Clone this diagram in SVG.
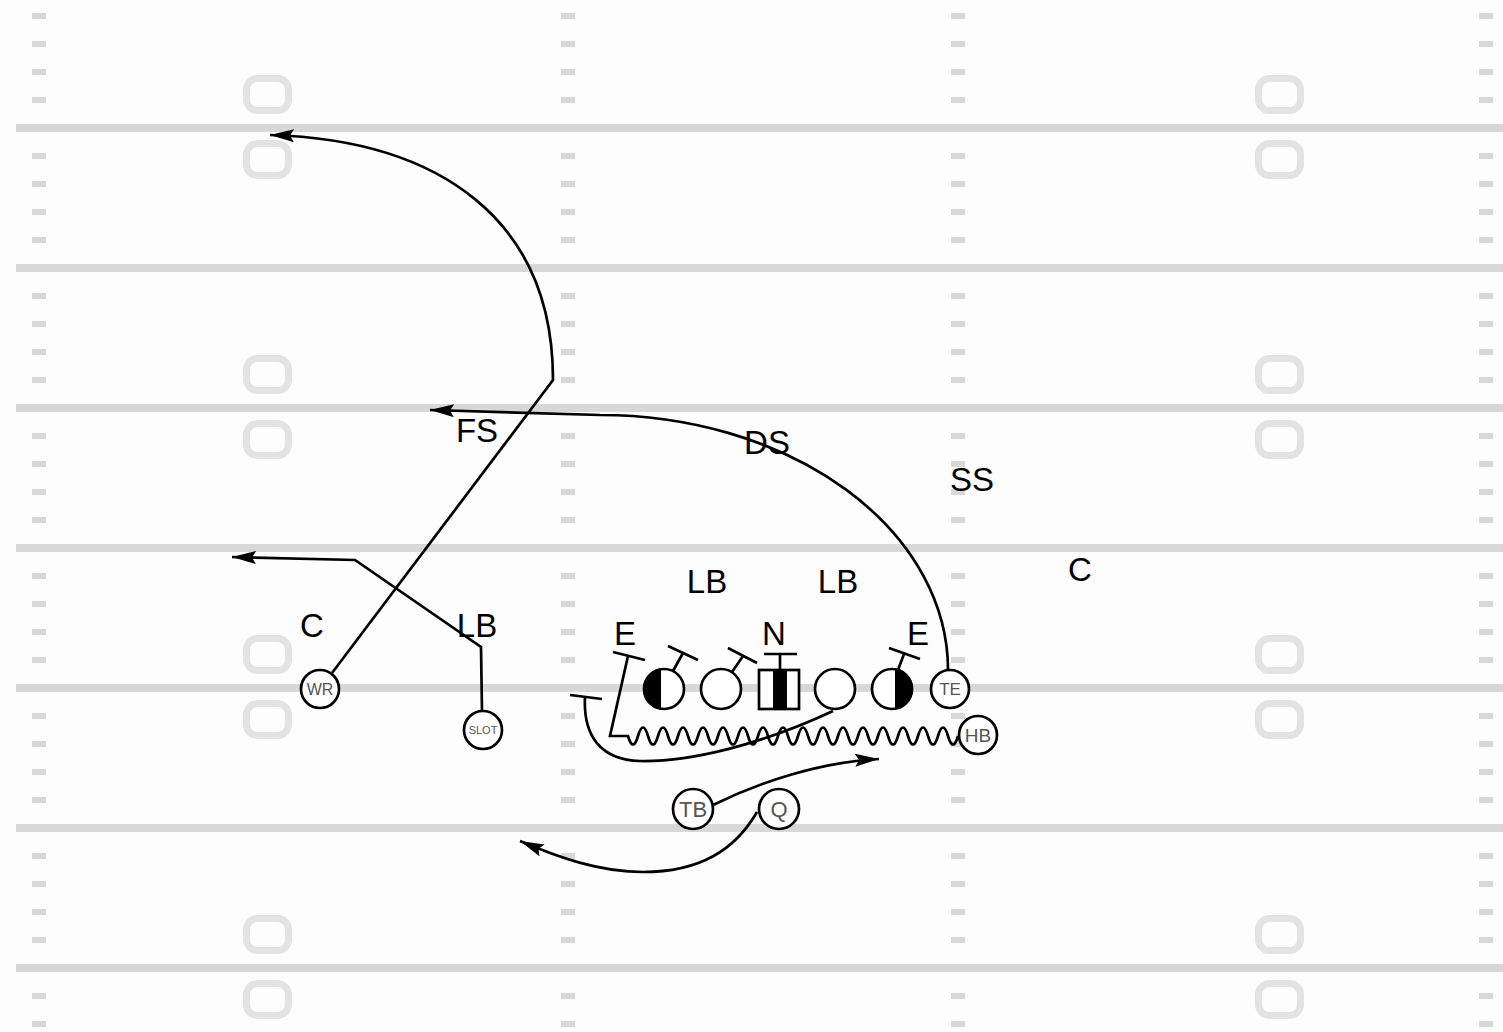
<svg xmlns="http://www.w3.org/2000/svg" xmlns:xlink="http://www.w3.org/1999/xlink" width="1503" height="1032" viewBox="0 0 1503 1032">
<style>
.yl{stroke:#d8d8d8;stroke-width:8}
.hash{fill:#d8d8d8}
.num{fill:none;stroke:#e3e3e3;stroke-width:7}
.p{fill:#fff;stroke:#000;stroke-width:2.7}
.route{fill:none;stroke:#000;stroke-width:2.7}
.blk{fill:none;stroke:#000;stroke-width:2.7}
.lbl{font-family:"Liberation Sans",Arial,sans-serif;font-size:33px;fill:#000;text-anchor:middle}
.pl{font-family:"Liberation Sans",Arial,sans-serif;fill:#555;text-anchor:middle}
</style>
<defs>
<marker id="arr" markerUnits="userSpaceOnUse" markerWidth="26" markerHeight="14" refX="24" refY="6.5" orient="auto">
<path d="M0,0 L24,6.5 L0,13 L4,6.5 Z" fill="#000"/>
</marker>
<g id="hcol">
<rect class="hash" x="0" y="13" width="14" height="6"/><rect class="hash" x="0" y="41" width="14" height="6"/><rect class="hash" x="0" y="69" width="14" height="6"/><rect class="hash" x="0" y="97" width="14" height="6"/>
<rect class="hash" x="0" y="153" width="14" height="6"/><rect class="hash" x="0" y="181" width="14" height="6"/><rect class="hash" x="0" y="209" width="14" height="6"/><rect class="hash" x="0" y="237" width="14" height="6"/>
<rect class="hash" x="0" y="293" width="14" height="6"/><rect class="hash" x="0" y="321" width="14" height="6"/><rect class="hash" x="0" y="349" width="14" height="6"/><rect class="hash" x="0" y="377" width="14" height="6"/>
<rect class="hash" x="0" y="433" width="14" height="6"/><rect class="hash" x="0" y="461" width="14" height="6"/><rect class="hash" x="0" y="489" width="14" height="6"/><rect class="hash" x="0" y="517" width="14" height="6"/>
<rect class="hash" x="0" y="573" width="14" height="6"/><rect class="hash" x="0" y="601" width="14" height="6"/><rect class="hash" x="0" y="629" width="14" height="6"/><rect class="hash" x="0" y="657" width="14" height="6"/>
<rect class="hash" x="0" y="713" width="14" height="6"/><rect class="hash" x="0" y="741" width="14" height="6"/><rect class="hash" x="0" y="769" width="14" height="6"/><rect class="hash" x="0" y="797" width="14" height="6"/>
<rect class="hash" x="0" y="853" width="14" height="6"/><rect class="hash" x="0" y="881" width="14" height="6"/><rect class="hash" x="0" y="909" width="14" height="6"/><rect class="hash" x="0" y="937" width="14" height="6"/>
<rect class="hash" x="0" y="993" width="14" height="6"/><rect class="hash" x="0" y="1021" width="14" height="6"/>
</g>
<g id="nums">
<rect class="num" x="0" y="-49.5" width="42" height="32" rx="11"/>
<rect class="num" x="0" y="15.5" width="42" height="32" rx="11"/>
</g>
</defs>
<rect x="0" y="0" width="1503" height="1032" fill="#fdfdfd"/>
<g id="field">
<line class="yl" x1="16" y1="128" x2="1503" y2="128"/>
<line class="yl" x1="16" y1="268" x2="1503" y2="268"/>
<line class="yl" x1="16" y1="408" x2="1503" y2="408"/>
<line class="yl" x1="16" y1="548" x2="1503" y2="548"/>
<line class="yl" x1="16" y1="688" x2="1503" y2="688"/>
<line class="yl" x1="16" y1="828" x2="1503" y2="828"/>
<line class="yl" x1="16" y1="968" x2="1503" y2="968"/>
<use xlink:href="#hcol" x="32"/>
<use xlink:href="#hcol" x="561"/>
<use xlink:href="#hcol" x="951"/>
<use xlink:href="#hcol" x="1479"/>
<use xlink:href="#nums" x="246.5" y="128"/>
<use xlink:href="#nums" x="246.5" y="408"/>
<use xlink:href="#nums" x="246.5" y="688"/>
<use xlink:href="#nums" x="246.5" y="968"/>
<use xlink:href="#nums" x="1258.5" y="128"/>
<use xlink:href="#nums" x="1258.5" y="408"/>
<use xlink:href="#nums" x="1258.5" y="688"/>
<use xlink:href="#nums" x="1258.5" y="968"/>
</g>
<g id="connectors">
<path class="route" d="M332,673 L553,380 C553,220 440,140 270,135" marker-end="url(#arr)"/>
<path class="route" d="M482,711 L481,647 L355,560 L232,557" marker-end="url(#arr)"/>
<path class="route" d="M948,670 A348,255 0 0 0 600,415 L430,410" marker-end="url(#arr)"/>
<path class="route" d="M713,805 C760,782 820,762 879,759" marker-end="url(#arr)"/>
<path class="route" d="M757,812 C735,850 700,872 643,872 C600,872 560,858 520,841" marker-end="url(#arr)"/>
<path class="route" d="M958,736 q-5,17 -10,0 t-10,0 t-10,0 t-10,0 t-10,0 t-10,0 t-10,0 t-10,0 t-10,0 t-10,0 t-10,0 t-10,0 t-10,0 t-10,0 t-10,0 t-10,0 t-10,0 t-10,0 t-10,0 t-10,0 t-10,0 t-10,0 t-10,0 t-10,0 t-10,0 t-10,0 t-10,0 t-10,0 t-10,0 t-10,0 t-10,0 t-10,0 t-10,0 L610,736 L628,656"/>
<path class="route" d="M833,711 C760,745 690,762 640,761 C600,760 583,735 585,697"/>
<line class="blk" x1="613" y1="652" x2="645" y2="660"/>
<line class="blk" x1="570" y1="695" x2="602" y2="699"/>
<path class="blk" d="M668,646 L698,660 M683,653 L673,671"/>
<path class="blk" d="M728,648 L757,663 M743,656 L732,672"/>
<path class="blk" d="M764,654 L797,654 M780,654 L780,671"/>
<path class="blk" d="M889,648 L920,659 M904,654 L898,670"/>
</g>
<g id="ol1"><circle class="p" cx="664" cy="689" r="20"/><path d="M660,669.4 A20,20 0 0 0 660,708.6 Z" fill="#000" stroke="#000" stroke-width="2"/></g>
<g id="ol2"><circle class="p" cx="721" cy="689" r="20"/></g>
<g id="ol3"><rect class="p" x="759" y="670" width="40" height="39"/><rect x="773" y="670" width="14" height="39" fill="#000"/></g>
<g id="ol4"><circle class="p" cx="835" cy="689" r="20"/></g>
<g id="ol5"><circle class="p" cx="892" cy="689" r="20"/><path d="M896,669.4 A20,20 0 0 1 896,708.6 Z" fill="#000" stroke="#000" stroke-width="2"/></g>
<g id="te"><circle class="p" cx="950" cy="689" r="19"/><text class="pl" x="950" y="695" font-size="17">TE</text></g>
<g id="hb"><circle class="p" cx="978" cy="735" r="19"/><text class="pl" x="978" y="742" font-size="19">HB</text></g>
<g id="wr"><circle class="p" cx="320" cy="689" r="19"/><text class="pl" x="320" y="695" font-size="16">WR</text></g>
<g id="slot"><circle class="p" cx="483" cy="730" r="19"/><text class="pl" x="483" y="734" font-size="11">SLOT</text></g>
<g id="tb"><circle class="p" cx="693" cy="809" r="20"/><text class="pl" x="693" y="817" font-size="22">TB</text></g>
<g id="q"><circle class="p" cx="779" cy="809" r="20"/><text class="pl" x="779" y="817" font-size="22">Q</text></g>
<g id="defense">
<text class="lbl" x="477" y="442">FS</text>
<text class="lbl" x="767" y="454">DS</text>
<text class="lbl" x="972" y="491">SS</text>
<text class="lbl" x="1080" y="581">C</text>
<text class="lbl" x="707" y="593">LB</text>
<text class="lbl" x="838" y="593">LB</text>
<text class="lbl" x="312" y="637">C</text>
<text class="lbl" x="477" y="637">LB</text>
<text class="lbl" x="625" y="645">E</text>
<text class="lbl" x="774" y="645">N</text>
<text class="lbl" x="918" y="645">E</text>
</g>
</svg>
